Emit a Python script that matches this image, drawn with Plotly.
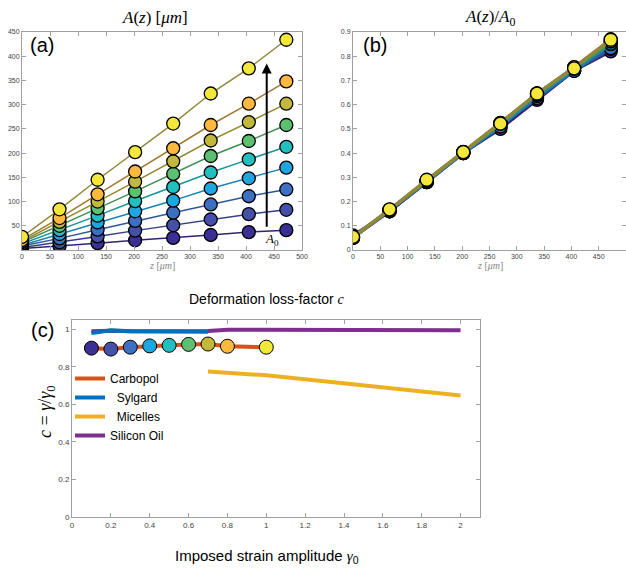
import plotly.graph_objects as go

W, H = 626, 568

# ---------------- data ----------------
z_um = [0, 67, 135, 202, 270, 337, 405, 472]
A0_um = [50, 100, 150, 200, 250, 300, 350, 400, 500]
series_colors = ["#3b2f93", "#4550a8", "#3d6fc2", "#1ea6e0", "#21bfc0",
                 "#5dbf72", "#c2b93a", "#fdb93e", "#f3e83a"]
line_colors = ["#2e2474", "#353f86", "#2f579a", "#1883b0", "#189596",
               "#3e8f55", "#8f8a2c", "#a07a2e", "#8f8a3a"]
A_um = [
    [3, 8, 14, 20, 25, 31, 37, 41],
    [5, 16, 28, 40, 51, 63, 74, 83],
    [8, 24, 42, 60, 77, 94, 111, 125],
    [10, 33, 57, 80, 102, 127, 148, 170],
    [13, 41, 71, 101, 130, 160, 187, 213],
    [16, 50, 86, 121, 157, 194, 225, 258],
    [18, 58, 100, 141, 183, 226, 264, 302],
    [21, 66, 115, 162, 210, 258, 302, 348],
    [27, 84, 145, 202, 261, 323, 375, 434],
]

gamma0_carbopol = [0.1, 0.2, 0.3, 0.4, 0.5, 0.6, 0.7, 0.8, 1.0]
c_carbopol = [0.900, 0.895, 0.905, 0.912, 0.915, 0.920, 0.922, 0.910, 0.905]
gamma0_sylgard = [0.1, 0.2, 0.3, 0.4, 0.5, 0.6, 0.7]
c_sylgard = [0.980, 0.995, 0.990, 0.990, 0.988, 0.985, 0.988]
gamma0_micelles = [0.7, 1.0, 2.0]
c_micelles = [0.775, 0.755, 0.648]
gamma0_oil = [0.1, 0.2, 0.3, 0.4, 0.5, 0.6, 0.7, 0.8, 1.0, 1.2, 1.4, 1.6, 1.8, 2.0]
c_oil = [0.990, 0.993, 0.990, 0.990, 0.990, 0.990, 0.992, 0.998, 0.997, 1.0, 1.0, 0.998, 0.997, 0.996]

# ---------------- figure ----------------
fig = go.Figure()

def px(x):
    return x / W

def py(y):
    return 1 - y / H

# panel a
for i in range(len(A0_um)):
    fig.add_trace(go.Scatter(
        x=z_um, y=A_um[i], mode="lines+markers", xaxis="x", yaxis="y",
        line=dict(color=line_colors[i], width=1.5),
        marker=dict(size=13, color=series_colors[i], line=dict(color="black", width=1.3)),
        showlegend=False))

# panel b (normalised by A0)
for i in range(len(A0_um)):
    fig.add_trace(go.Scatter(
        x=z_um, y=[a / A0_um[i] for a in A_um[i]], mode="lines+markers",
        xaxis="x2", yaxis="y2",
        line=dict(color=line_colors[i], width=3),
        marker=dict(size=13, color=series_colors[i], line=dict(color="black", width=1.3)),
        showlegend=False))

# panel c
fig.add_trace(go.Scatter(x=gamma0_oil, y=c_oil, mode="lines", xaxis="x3", yaxis="y3",
                         line=dict(color="#7e2f8e", width=4), name="Silicon Oil", legendrank=4))
fig.add_trace(go.Scatter(x=gamma0_micelles, y=c_micelles, mode="lines", xaxis="x3", yaxis="y3",
                         line=dict(color="#edb120", width=4), name="  Micelles", legendrank=3))
fig.add_trace(go.Scatter(x=gamma0_sylgard, y=c_sylgard, mode="lines", xaxis="x3", yaxis="y3",
                         line=dict(color="#0072bd", width=4), name="  Sylgard", legendrank=2))
fig.add_trace(go.Scatter(x=gamma0_carbopol, y=c_carbopol, mode="lines", xaxis="x3", yaxis="y3",
                         line=dict(color="#d95319", width=4), name="Carbopol", legendrank=1))
fig.add_trace(go.Scatter(x=gamma0_carbopol, y=c_carbopol, mode="markers", xaxis="x3", yaxis="y3",
                         marker=dict(size=14, color=series_colors, line=dict(color="black", width=1)),
                         showlegend=False))

axis_common = dict(showline=True, linecolor="#a0a0a0", linewidth=1, mirror="ticks",
                   ticks="inside", ticklen=4, tickcolor="#a0a0a0", showgrid=False,
                   zeroline=False, automargin=False,
                   tickfont=dict(family="Liberation Sans", size=7, color="#444"))
font_c = dict(family="Liberation Sans", size=8, color="#444")

fig.update_layout(
    width=W, height=H, margin=dict(l=0, r=0, t=0, b=0, autoexpand=False),
    paper_bgcolor="white", plot_bgcolor="white",
    font=dict(color="black"),
    xaxis=dict(domain=[px(22), px(302)], range=[0, 500], anchor="y",
               tickvals=list(range(0, 501, 50)), **axis_common),
    yaxis=dict(domain=[py(250), py(32)], range=[0, 450], anchor="x",
               tickvals=list(range(50, 451, 50)), **axis_common),
    xaxis2=dict(domain=[px(353), 1.0], range=[0, 500], anchor="y2",
                tickvals=list(range(0, 501, 50)), **axis_common),
    yaxis2=dict(domain=[py(250), py(32)], range=[0, 0.9], anchor="x2",
                tickvals=[0, 0.1, 0.2, 0.3, 0.4, 0.5, 0.6, 0.7, 0.8, 0.9], **axis_common),
    xaxis3=dict(domain=[px(72), px(480)], range=[0, 2.1], anchor="y3",
                tickvals=[0, 0.2, 0.4, 0.6, 0.8, 1, 1.2, 1.4, 1.6, 1.8, 2],
                ticktext=["0", "0.2", "0.4", "0.6", "0.8", "1", "1.2", "1.4", "1.6", "1.8", "2"],
                **{**axis_common, "tickfont": font_c}),
    yaxis3=dict(domain=[py(517), py(320)], range=[0, 1.05], anchor="x3",
                tickvals=[0, 0.2, 0.4, 0.6, 0.8, 1],
                ticktext=["0", "0.2", "0.4", "0.6", "0.8", "1"],
                **{**axis_common, "tickfont": font_c}),
    legend=dict(x=px(70), y=py(364), xanchor="left", yanchor="top",
                bgcolor="rgba(0,0,0,0)", font=dict(family="Liberation Sans", size=12, color="black"),
                itemwidth=30, tracegroupgap=0),
    showlegend=True,
)

serif = "Liberation Serif"
sans = "Liberation Sans"
ann = [
    dict(x=px(155), y=py(18), text="<i>A</i>(<i>z</i>) [<i>μm</i>]", font=dict(family=serif, size=17)),
    dict(x=px(490), y=py(18), text="<i>A</i>(<i>z</i>)/<i>A</i><sub>0</sub>", font=dict(family=serif, size=17)),
    dict(x=px(162), y=py(266), text="<i>z</i> [<i>μm</i>]", font=dict(family=serif, size=10, color="#888")),
    dict(x=px(490), y=py(266), text="<i>z</i> [<i>μm</i>]", font=dict(family=serif, size=10, color="#888")),
    dict(x=px(42), y=py(45), text="(a)", font=dict(family=sans, size=20)),
    dict(x=px(375), y=py(45), text="(b)", font=dict(family=sans, size=20)),
    dict(x=px(42), y=py(330), text="(c)", font=dict(family=sans, size=20)),
    dict(x=px(267), y=py(299), text="Deformation loss-factor <i><span style='font-family:Liberation Serif'>c</span></i>",
         font=dict(family=sans, size=14)),
    dict(x=px(267), y=py(556), text="Imposed strain amplitude <i><span style='font-family:Liberation Serif'>γ</span></i><sub>0</sub>",
         font=dict(family=sans, size=15)),
    dict(x=px(46), y=py(412), text="<i>c</i> = <i>γ</i>/<i>γ</i><sub>0</sub>", textangle=-90,
         font=dict(family=serif, size=18)),
    dict(x=447, y=22, xref="x", yref="y", text="<i>A</i><sub>0</sub>", font=dict(family=serif, size=13)),
]
for a in ann:
    a.setdefault("xref", "paper")
    a.setdefault("yref", "paper")
    a.update(showarrow=False, xanchor="center", yanchor="middle")
    fig.add_annotation(**a)

fig.add_annotation(x=437, y=385, ax=437, ay=45, xref="x", yref="y", axref="x", ayref="y",
                   showarrow=True, arrowhead=2, arrowsize=1, arrowwidth=2, arrowcolor="black", text="")

fig.write_html("out.html", config={"displayModeBar": False},
               post_script="document.body.style.margin='0px';document.body.style.overflow='hidden';")
